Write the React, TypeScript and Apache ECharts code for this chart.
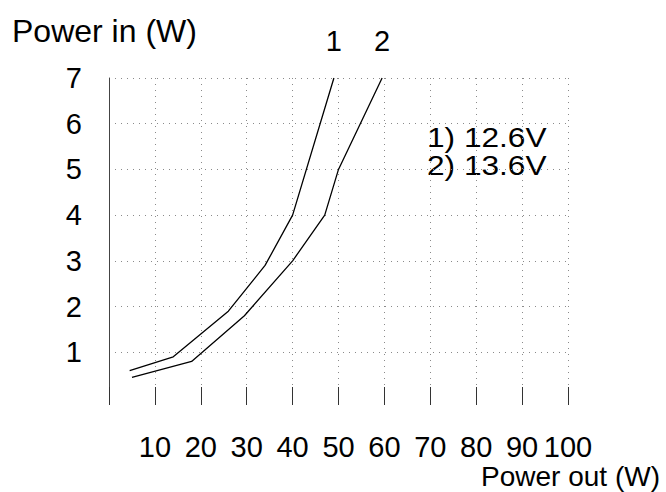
import React, { useEffect, useRef } from "react";
import * as echarts from "echarts";

const xTicks = [10, 20, 30, 40, 50, 60, 70, 80, 90, 100];
const yTicks = [1, 2, 3, 4, 5, 6, 7];
const curve1: [number, number][] = [
  [4.5, 0.6],
  [14, 0.9],
  [26, 1.9],
  [34, 2.9],
  [40, 4],
  [49, 7],
];
const curve2: [number, number][] = [
  [5, 0.45],
  [18, 0.8],
  [29.5, 1.8],
  [40, 3],
  [47, 4],
  [50, 5],
  [59.5, 7],
];
const curveNames = ["1", "2"];
const legendLines = ["1) 12.6V", "2) 13.6V"];
const yTitle = "Power in (W)";
const xTitle = "Power out (W)";

const FONT = "'Liberation Sans', Arial, Helvetica, sans-serif";

export default function App() {
  const ref = useRef<HTMLDivElement>(null);
  useEffect(() => {
    if (!ref.current) return;
    const chart = echarts.init(ref.current, null, { renderer: "svg" });
    const mkData = (pts: [number, number][], name: string) =>
      pts.map((p, i) =>
        i === pts.length - 1
          ? {
              value: p,
              label: {
                show: true,
                position: "top",
                distance: 22,
                formatter: name,
                fontSize: 29,
                color: "#000",
                fontFamily: FONT,
              },
            }
          : { value: p }
      );
    const gridLine = {
      show: true,
      showMinLine: false,
      lineStyle: { color: "#8a8a8a", width: 1, type: [1, 5] as any },
    };
    chart.setOption({
      animation: false,
      backgroundColor: "#fff",
      grid: { left: 109, right: 98, top: 78, bottom: 94, containLabel: false },
      xAxis: [
        {
          type: "value",
          min: 0,
          max: 100,
          interval: 10,
          axisLine: { show: false },
          axisTick: { show: true, inside: true, length: 11, lineStyle: { color: "#333", width: 1 } },
          axisLabel: {
            show: true,
            margin: 38,
            fontSize: 29,
            lineHeight: 22,
            color: "#000",
            fontFamily: FONT,
            formatter: (v: number) => (xTicks.includes(v) ? String(v) : ""),
          },
          splitLine: gridLine,
        },
        {
          type: "value",
          position: "bottom",
          min: 0,
          max: 100,
          interval: 10,
          axisLine: { show: false },
          axisTick: { show: true, inside: false, length: 7, lineStyle: { color: "#333", width: 1 } },
          axisLabel: { show: false },
          splitLine: { show: false },
        },
      ],
      yAxis: {
        type: "value",
        min: 0,
        max: 7,
        interval: 1,
        axisLine: { show: true, lineStyle: { color: "#444", width: 1 } },
        axisTick: { show: false },
        axisLabel: {
          show: true,
          margin: 27,
          fontSize: 29,
          color: "#000",
          fontFamily: FONT,
          formatter: (v: number) => (yTicks.includes(v) ? String(v) : ""),
        },
        splitLine: gridLine,
      },
      graphic: [
        {
          type: "text",
          left: 12,
          top: 15,
          style: { text: yTitle, fontSize: 32, fill: "#000", fontFamily: FONT },
        },
        {
          type: "text",
          right: 6,
          top: 462,
          style: { text: xTitle, fontSize: 28, lineHeight: 24, fill: "#000", fontFamily: FONT },
        },
        {
          type: "text",
          left: 427,
          top: 123,
          scaleX: 1.13,
          style: {
            text: legendLines.join("\n"),
            fontSize: 28,
            lineHeight: 28,
            fill: "#000",
            fontFamily: FONT,
          },
        },
      ],
      series: curveNames.map((name, si) => ({
        type: "line",
        name,
        data: mkData(si === 0 ? curve1 : curve2, name),
        showSymbol: true,
        symbol: "circle",
        symbolSize: 0.01,
        itemStyle: { color: "#000" },
        label: { show: false },
        lineStyle: { color: "#000", width: 1.3 },
        xAxisIndex: 0,
      })),
    });
    return () => chart.dispose();
  }, []);
  return (
    <div
      ref={ref}
      style={{ position: "fixed", left: 0, top: 0, width: 666, height: 492, background: "#fff" }}
    />
  );
}
